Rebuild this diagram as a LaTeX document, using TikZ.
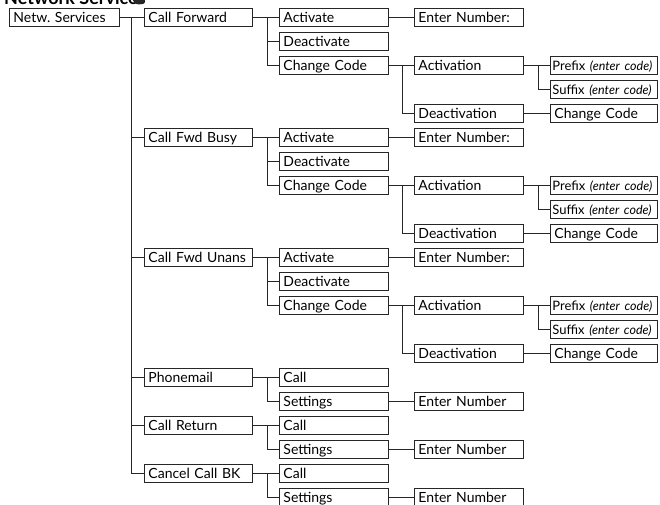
\documentclass[tikz,border=0pt]{standalone}
\usepackage{fontspec}
\setmainfont{Lato}
\begin{document}
\begin{tikzpicture}[x=1pt,y=-1pt,
  bx/.style={draw=black!85, line width=0.9pt, anchor=west, text width=#1,
    inner xsep=4pt, inner ysep=0pt, minimum height=18pt, align=left,
    font=\fontsize{14}{16}\selectfont, text height=10pt, text depth=0pt},
  ln/.style={draw=black!85, line width=0.8pt}]
\useasboundingbox (0,0) rectangle (660,505);
\clip (0,0) rectangle (660,505);
% title (cut off at top)
\node[anchor=base west, font=\fontsize{18}{20}\selectfont\bfseries, inner sep=0pt] (title) at (4,4.5) {Network Services};
\node[circle, fill=black!85, minimum size=13pt, inner sep=0pt] (icon) at (139,-2) {};
% junction coordinates
\coordinate (j1) at (131,0);
\coordinate (j2) at (267,0);
\coordinate (j3) at (402,0);
\coordinate (j4) at (538,0);
% root
\node[bx=102] (root) at (9,17.5) {\mbox{Netw.\ Services}};
% three call-forward blocks
\foreach \k/\lab in {0/Call Forward,1/Call Fwd Busy,2/Call Fwd Unans}{
  \pgfmathsetmacro{\ya}{17.5+120*\k}
  \pgfmathsetmacro{\yb}{41.5+120*\k}
  \pgfmathsetmacro{\yc}{65.5+120*\k}
  \pgfmathsetmacro{\yd}{89.5+120*\k}
  \pgfmathsetmacro{\ye}{113.5+120*\k}
  \node[bx=100] (cf\k) at (144,\ya) {\mbox{\lab}};
  \node[bx=101] (act\k) at (279,\ya) {Activate};
  \node[bx=101] (deact\k) at (279,\yb) {Deactivate};
  \node[bx=101] (cc\k) at (279,\yc) {\mbox{Change Code}};
  \node[bx=101] (en\k) at (414,\ya) {\mbox{Enter Number:}};
  \node[bx=101] (av\k) at (414,\yc) {Activation};
  \node[bx=101] (dv\k) at (414,\ye) {Deactivation};
  \node[bx=103, inner xsep=2pt] (pre\k) at (550,\yc) {\mbox{\fontsize{13}{14}\selectfont Prefix \textit{\fontsize{12.5}{13}\selectfont(enter code)}}};
  \node[bx=103, inner xsep=2pt] (suf\k) at (550,\yd) {\mbox{\fontsize{13}{14}\selectfont Suffix \textit{\fontsize{12.5}{13}\selectfont(enter code)}}};
  \node[bx=99] (ccb\k) at (550,\ye) {\mbox{Change Code}};
  \draw[ln] (root.east) -- (root.east -| j1) |- (cf\k.west);
  \draw[ln] (cf\k.east) -- (cf\k.east -| j2) |- (act\k.west);
  \draw[ln] (cf\k.east -| j2) |- (deact\k.west);
  \draw[ln] (cf\k.east -| j2) |- (cc\k.west);
  \draw[ln] (act\k.east) -- (en\k.west);
  \draw[ln] (cc\k.east) -- (cc\k.east -| j3) |- (av\k.west);
  \draw[ln] (cc\k.east -| j3) |- (dv\k.west);
  \draw[ln] (av\k.east) -- (av\k.east -| j4) |- (pre\k.west);
  \draw[ln] (av\k.east -| j4) |- (suf\k.west);
  \draw[ln] (dv\k.east) -- (ccb\k.west);
}
% three simple blocks
\foreach \k/\lab in {0/Phonemail,1/Call Return,2/Cancel Call BK}{
  \pgfmathsetmacro{\ya}{377.5+48*\k}
  \pgfmathsetmacro{\yb}{401.5+48*\k}
  \node[bx=100] (sv\k) at (144,\ya) {\mbox{\lab}};
  \node[bx=101] (call\k) at (279,\ya) {Call};
  \node[bx=101] (set\k) at (279,\yb) {Settings};
  \node[bx=101] (num\k) at (414,\yb) {\mbox{Enter Number}};
  \draw[ln] (root.east) -- (root.east -| j1) |- (sv\k.west);
  \draw[ln] (sv\k.east) -- (sv\k.east -| j2) |- (call\k.west);
  \draw[ln] (sv\k.east -| j2) |- (set\k.west);
  \draw[ln] (set\k.east) -- (num\k.west);
}
\end{tikzpicture}
\end{document}
